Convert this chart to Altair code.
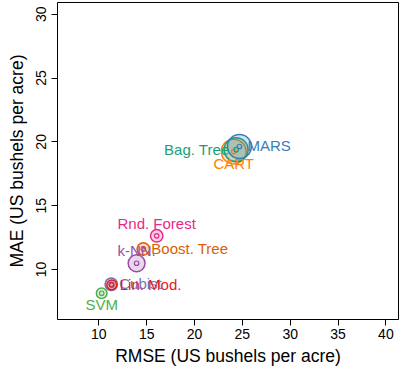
import altair as alt
import pandas as pd
import math

models = ["Cubist", "Lin. Mod.", "SVM", "k-NN.", "Boost. Tree", "Rnd. Forest", "CART", "Bag. Tree", "MARS"]
rmse = [11.35, 11.4, 10.35, 14.0, 14.7, 16.1, 24.15, 24.4, 24.75]
mae = [8.8, 8.75, 8.1, 10.45, 11.57, 12.6, 19.2, 19.35, 19.6]
spread = [7.0, 5.5, 6.0, 9.5, 7.0, 7.0, 14.0, 13.5, 13.5]
colors = ["#7570B3", "#E41A1C", "#4DAF4A", "#984EA3", "#D95F02", "#E7298A", "#FF7F00", "#1B9E77", "#377EB8"]

df = pd.DataFrame({"model": models, "rmse": rmse, "mae": mae, "spread": spread})

FONT = "Liberation Sans"
xs = alt.Scale(domain=[5.68, 41.32], nice=False, zero=False)
ys = alt.Scale(domain=[6.08, 30.92], nice=False, zero=False)
cs = alt.Scale(domain=models, range=colors)

xenc = alt.X("rmse:Q", scale=xs, axis=alt.Axis(
    title="RMSE (US bushels per acre)", values=[10, 15, 20, 25, 30, 35, 40],
    grid=False, domain=False, tickColor="black", tickSize=6, tickWidth=1,
    labelFont=FONT, labelFontSize=14, labelColor="black", labelPadding=2,
    titleFont=FONT, titleFontSize=17.5, titleFontWeight="normal", titleColor="black",
    titlePadding=6))
yenc = alt.Y("mae:Q", scale=ys, axis=alt.Axis(
    title="MAE (US bushels per acre)", values=[10, 15, 20, 25, 30],
    grid=False, domain=False, tickColor="black", tickSize=6, tickWidth=1,
    labelFont=FONT, labelFontSize=14, labelColor="black", labelPadding=3,
    labelAngle=270, labelAlign="center", labelBaseline="bottom",
    titleFont=FONT, titleFontSize=17.5, titleFontWeight="normal", titleColor="black",
    titlePadding=8))
col = alt.Color("model:N", scale=cs, legend=None)

base = alt.Chart(df).encode(x=xenc, y=yenc)

outer = base.mark_point(shape="circle", filled=True, strokeWidth=1.5, fillOpacity=0.22, strokeOpacity=1, opacity=1).encode(
    size=alt.Size("spread:Q", scale=alt.Scale(type="pow", exponent=2, domain=[0, 14], range=[0, math.pi * 196]), legend=None),
    fill=alt.Fill("model:N", scale=cs, legend=None),
    stroke=alt.Stroke("model:N", scale=cs, legend=None),
)
inner = base.mark_point(shape="circle", filled=False, size=20, strokeWidth=1.2, opacity=1).encode(color=col)

above = ["Rnd. Forest", "k-NN."]
below = ["SVM", "CART"]
left = ["Bag. Tree"]
right = ["Cubist", "Lin. Mod.", "Boost. Tree", "MARS"]

def labels(names, **kw):
    return base.transform_filter(alt.FieldOneOfPredicate(field="model", oneOf=names)).mark_text(
        font=FONT, fontSize=15, baseline="middle", **kw).encode(text="model:N", color=col)

chart = alt.layer(
    outer, inner,
    labels(above, align="center", dy=-12),
    labels(below, align="center", dy=12),
    labels(left, align="right", dx=-7),
    labels(right, align="left", dx=8),
).properties(
    width=341, height=317,
    padding={"left": 57, "top": 2, "right": 1, "bottom": 50},
    autosize=alt.AutoSizeParams(type="none"),
).configure_view(stroke="black", strokeWidth=1)

chart.save("out.html", embed_options={"renderer": "svg", "actions": False})
